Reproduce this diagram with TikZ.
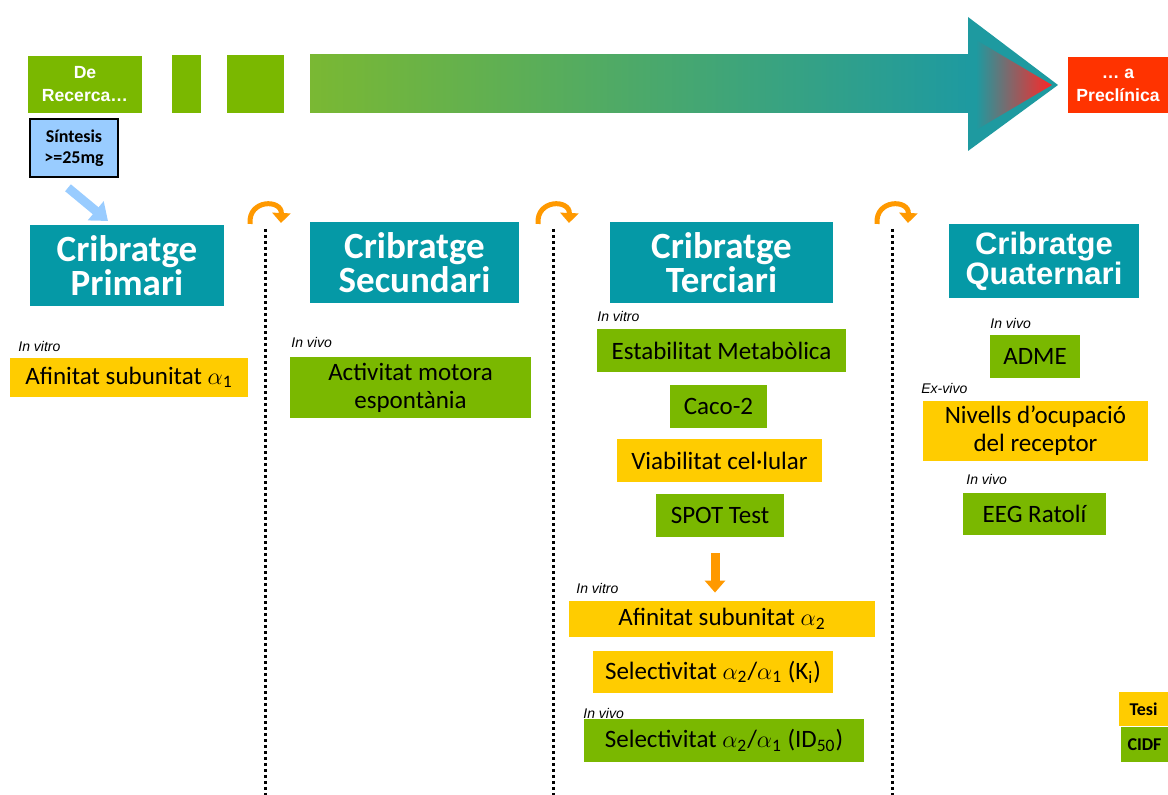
\documentclass[tikz,border=0pt]{standalone}
\usepackage{fontspec}
\setmainfont{Carlito}
\newfontfamily\arialfont{Liberation Sans}
\usetikzlibrary{arrows.meta,calc}

\definecolor{lime}{HTML}{7AB800}
\definecolor{gold}{HTML}{FFCC00}
\definecolor{tealbg}{HTML}{0599A6}
\definecolor{flame}{HTML}{FF3300}
\definecolor{sky}{HTML}{99CCFF}
\definecolor{amber}{HTML}{FF9900}
\definecolor{shaftgreen}{HTML}{7AB833}
\definecolor{shaftteal}{HTML}{1E9AA0}

\newcommand{\alf}[1]{$\alpha$\textsubscript{#1}}

\begin{document}
\begin{tikzpicture}[x=0.5pt,y=-0.5pt,
  box/.style={inner sep=0pt, align=center, font=\fontsize{12.5}{14}\selectfont},
  greenbox/.style={box, fill=lime},
  yellowbox/.style={box, fill=gold},
  stagebox/.style={inner sep=0pt, align=center, fill=tealbg, text=white,
    font=\fontsize{18.5}{17}\selectfont\bfseries},
  phasebox/.style={inner sep=0pt, align=center, text=white,
    font=\arialfont\fontsize{8.8}{11.5}\selectfont\bfseries},
  tag/.style={anchor=west, inner sep=0pt, font=\arialfont\fontsize{7}{8}\selectfont\itshape},
  divider/.style={line width=1.5pt, dash pattern=on 1.5pt off 1.5pt},
  loop/.style={amber, line width=2.5pt, -{Triangle[length=5pt,width=9pt]}}]
  \useasboundingbox (0,0) rectangle (1168,795);

  % top band
  \node (rec) [phasebox, fill=lime, minimum width=57pt, minimum height=28.5pt] at (85,84.5) {De\\Recerca…};
  \node (bar1) [fill=lime, inner sep=0pt, minimum width=14.5pt, minimum height=29pt] at (186.5,84) {};
  \node (bar2) [fill=lime, inner sep=0pt, minimum width=28.5pt, minimum height=29pt] at (255.5,84) {};
  \shade[left color=shaftgreen, right color=shaftteal] (310,55) rectangle (968,113);
  \fill[shaftteal] (968,17) -- (1058,85) -- (968,151) -- cycle;
  \shade[left color=shaftteal, right color=red!85] (976,40) -- (1052,85) -- (976,130) -- cycle;
  \node (prec) [phasebox, fill=flame, minimum width=50pt, minimum height=28pt] at (1118,85) {… a\\Preclínica};

  \node (sint) [draw=black, line width=0.8pt, fill=sky, inner sep=0pt, align=center,
    minimum width=44pt, minimum height=29pt, font=\fontsize{9}{10.5}\selectfont\bfseries] at (74,148) {Síntesis\\>=25mg};

  % stages
  \node (prim) [stagebox, minimum width=97pt, minimum height=40.5pt] at (127,265.5) {Cribratge\\Primari};
  \node (sec) [stagebox, minimum width=104.5pt, minimum height=40.5pt] at (414.5,262.5) {Cribratge\\Secundari};
  \node (ter) [stagebox, minimum width=111.5pt, minimum height=40.5pt] at (721.5,262.5) {Cribratge\\Terciari};
  \node (qua) [stagebox, minimum width=95pt, minimum height=37pt,
    font=\arialfont\fontsize{15.5}{15}\selectfont\bfseries] at (1044,261) {Cribratge\\Quaternari};

  \coordinate (s0) at ($(sint.south)+(-6,10)$);
  \coordinate (p0) at (108,221);
  \draw[sky, line width=4.5pt, -{Triangle[length=8pt,width=12pt]}] (s0) -- (p0);

  % dividers
  \foreach \dx/\nm in {265/a, 553/b, 892/c} {
    \coordinate (\nm top) at (\dx,229);
    \coordinate (\nm bot) at (\dx,795);
    \draw[divider] (\nm top) -- (\nm bot);
    \draw[loop] (\dx-15,224) .. controls (\dx-17,199) and (\dx+17,199) .. (\dx+16,223);
  }

  % primari
  \node (vitro1) [tag] at (18,347) {In vitro};
  \node (af1) [yellowbox, minimum width=119pt, minimum height=19.5pt] at (129,377.5) {Afinitat subunitat \alf{1}};

  % secundari
  \node (vivo1) [tag] at (291,343) {In vivo};
  \node (mot) [greenbox, minimum width=120.5pt, minimum height=30.5pt] at (410.5,387.5) {Activitat motora\\espontània};

  % terciari
  \node (vitro2) [tag] at (597,317) {In vitro};
  \node (est) [greenbox, minimum width=124.5pt, minimum height=21.5pt] at (721.5,350.5) {Estabilitat Metabòlica};
  \node (caco) [greenbox, minimum width=48.5pt, minimum height=21.5pt] at (718.5,406.5) {Caco-2};
  \node (viab) [yellowbox, minimum width=102.5pt, minimum height=21.5pt] at (719.5,460.5) {Viabilitat cel·lular};
  \node (spot) [greenbox, minimum width=64pt, minimum height=21.5pt] at (720,515.5) {SPOT Test};
  \node (vitro3) [tag] at (576,589) {In vitro};
  \node (af2) [yellowbox, minimum width=153pt, minimum height=18pt] at (722,619) {Afinitat subunitat \alf{2}};
  \node (selk) [yellowbox, minimum width=120pt, minimum height=21pt] at (713,672) {Selectivitat \alf{2}/\alf{1} (K\textsubscript{i})};
  \node (vivo2) [tag] at (583,713) {In vivo};
  \node (selid) [greenbox, minimum width=140pt, minimum height=21.5pt] at (724,740.5) {Selectivitat \alf{2}/\alf{1} (ID\textsubscript{50})};
  \draw[amber, line width=4.5pt, -{Triangle[length=6pt,width=10pt]}, shorten <=8pt, shorten >=4pt]
    ($(spot.south)+(-5,0)$) -- ($(af2.north)+(-7,0)$);

  % quaternari
  \node (vivo3) [tag] at (990,324) {In vivo};
  \node (adme) [greenbox, minimum width=45pt, minimum height=21.5pt] at (1035,356.5) {ADME};
  \node (exvivo) [tag] at (921,389) {Ex-vivo};
  \node (niv) [yellowbox, minimum width=112.5pt, minimum height=30pt] at (1035.5,431) {Nivells d’ocupació\\del receptor};
  \node (vivo4) [tag] at (966,480) {In vivo};
  \node (eeg) [greenbox, minimum width=71.5pt, minimum height=21pt] at (1034.5,514) {EEG Ratolí};

  % legend
  \node (tesi) [yellowbox, minimum width=24.5pt, minimum height=17pt, font=\fontsize{9}{10}\selectfont\bfseries] at (1143.5,709) {Tesi};
  \node (cidf) [greenbox, minimum width=23.5pt, minimum height=17.5pt, font=\fontsize{9}{10}\selectfont\bfseries] at (1144.5,744.5) {CIDF};
\end{tikzpicture}
\end{document}
